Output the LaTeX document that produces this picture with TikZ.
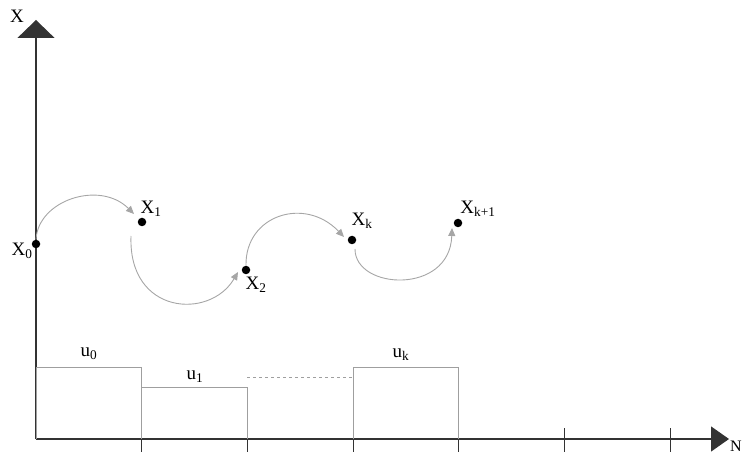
\documentclass[tikz,border=0pt]{standalone}
\usepackage{fontspec}
\setmainfont{Liberation Serif}
\usetikzlibrary{arrows.meta}
\begin{document}
\begin{tikzpicture}[x=1pt,y=-1pt,
  dot/.style={circle,fill=black,inner sep=0pt,minimum size=8.5pt},
  lbl/.style={font=\fontsize{19}{19}\selectfont,inner sep=0pt},
  step arc/.style={draw=gray!70,line width=0.9pt,-{Triangle[width=7pt,length=8pt]}},
  bar/.style={draw=gray!75,line width=1pt},
  axis/.style={draw=black!80,line width=1.3pt}]
\useasboundingbox (0,0) rectangle (744,454);

% axes
\coordinate (O) at (36,439);
\coordinate (ytop) at (36,20);
\coordinate (xend) at (729,439);
\draw[axis,-{Triangle[width=37pt,length=18pt]}] (O) -- (ytop);
\draw[axis,-{Triangle[width=25pt,length=18pt]}] (O) -- (xend);
\node[lbl] (ylab) at (17,16) {X};
\node[lbl,anchor=west,font=\fontsize{16}{16}\selectfont] (xlab) at (730,446) {N};

% ticks
\foreach \i in {1,...,6}
  \draw[black!80,line width=1pt] (36+105.7*\i,428) -- (36+105.7*\i,452);

% control bars
\draw[bar] (O) -- (36,367) -- (141,367) -- (141,387) -- (247,387) -- (247,439);
\draw[bar,dashed] (247,377) -- (353,377);
\draw[bar] (353,439) -- (353,367) -- (458,367) -- (458,439);
\draw[bar] (141,387) -- (141,439);
\node[lbl] (u0) at (89,354) {u\textsubscript{0}};
\node[lbl] (u1) at (195,377) {u\textsubscript{1}};
\node[lbl] (uk) at (401,355) {u\textsubscript{k}};

% states
\node[dot] (x0) at (36,244) {};
\node[dot] (x1) at (142,222) {};
\node[dot] (x2) at (246,270) {};
\node[dot] (xk) at (352,240) {};
\node[dot] (xk1) at (458,223) {};
\node[lbl] at (22,251) {X\textsubscript{0}};
\node[lbl] at (151,209) {X\textsubscript{1}};
\node[lbl] at (256,285) {X\textsubscript{2}};
\node[lbl] at (362,221) {X\textsubscript{k}};
\node[lbl] at (478,209) {X\textsubscript{k+1}};

% transitions
\draw[step arc] (x0.north) .. controls (38,200) and (100,180) .. (134,214);
\draw[step arc] (131,236) .. controls (128,315) and (210,320) .. (238,272);
\draw[step arc] (x2.north) .. controls (245,215) and (305,196) .. (344,237);
\draw[step arc] (355,249) .. controls (355,290) and (450,295) .. (452,228);
\end{tikzpicture}
\end{document}
